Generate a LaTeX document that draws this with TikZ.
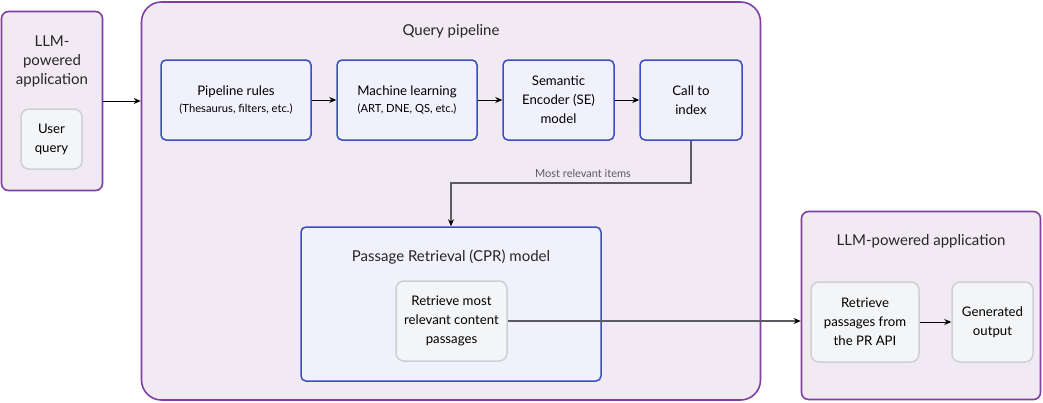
\documentclass[tikz,border=0pt]{standalone}
\usepackage{fontspec}
\setmainfont{Lato}
\usetikzlibrary{positioning,arrows.meta}

\definecolor{appborder}{HTML}{7F3FA6}
\definecolor{appfill}{HTML}{F2EAF3}
\definecolor{stepborder}{HTML}{3A4EC2}
\definecolor{stepfill}{HTML}{F1F1FC}
\definecolor{itemborder}{HTML}{CDD0D5}
\definecolor{itemfill}{HTML}{F4F5F7}
\definecolor{linkgray}{HTML}{5A5A60}

\tikzset{
  appbox/.style={draw=appborder, fill=appfill, line width=1.6pt, rounded corners=7pt,
    inner sep=0pt},
  stepbox/.style={draw=stepborder, fill=stepfill, line width=1.5pt, rounded corners=5pt,
    inner sep=0pt, align=center, font=\fontsize{13.2}{19}\selectfont},
  itembox/.style={draw=itemborder, fill=itemfill, line width=1.5pt, rounded corners=8pt,
    inner sep=0pt, align=center, font=\fontsize{13.2}{19}\selectfont},
  titletext/.style={align=center, font=\fontsize{15}{19}\selectfont, text=black!85},
  flow/.style={-{Stealth[length=7pt,width=6pt,color=black]}, line width=0.9pt},
}

\begin{document}
\begin{tikzpicture}[x=1pt, y=-1pt]
  \useasboundingbox (0,0) rectangle (1043,402);

  % Containers
  \node[appbox, minimum width=101pt, minimum height=179pt] (userapp) at (52,101) {};
  \node[appbox, minimum width=619pt, minimum height=398pt, rounded corners=20pt] (pipeline) at (451,201) {};
  \node[appbox, minimum width=239pt, minimum height=188pt] (outapp) at (921,305.5) {};

  % Titles
  \node[titletext] (userapptitle) at (52,61) {LLM-\\powered\\application};
  \node[titletext] (pipelinetitle) at (451,31) {Query pipeline};
  \node[titletext] (outapptitle) at (921,241) {LLM-powered application};

  % User query
  \node[itembox, minimum width=61pt, minimum height=60pt] (query) at (51.5,139) {User\\query};

  % Query pipeline steps
  \node[stepbox, minimum width=150pt, minimum height=80pt] (rules) at (236,100)
    {Pipeline rules\\[-2pt]{\fontsize{11.2}{12}\selectfont (Thesaurus, filters, etc.)}};
  \node[stepbox, minimum width=140pt, minimum height=80pt] (ml) at (407,100)
    {Machine learning\\[-2pt]{\fontsize{11.2}{12}\selectfont (ART, DNE, QS, etc.)}};
  \node[stepbox, minimum width=111pt, minimum height=80pt] (encoder) at (558.5,100)
    {Semantic\\Encoder (SE)\\model};
  \node[stepbox, minimum width=102pt, minimum height=80pt] (index) at (691,100)
    {Call to\\index};

  % Passage retrieval
  \node[stepbox, minimum width=300pt, minimum height=154pt] (cpr) at (451,304) {};
  \node[titletext] (cprtitle) at (451,257) {Passage Retrieval (CPR) model};
  \node[itembox, minimum width=111pt, minimum height=80pt] (passages) at (451.5,321)
    {Retrieve most\\relevant content\\passages};

  % Output application
  \node[itembox, minimum width=108pt, minimum height=80pt] (fetch) at (865,322)
    {Retrieve\\passages from\\the PR API};
  \node[itembox, minimum width=81pt, minimum height=80pt] (output) at (992.5,322)
    {Generated\\output};

  % Connectors
  \draw[flow] (userapp.east) -- (userapp.east -| pipeline.west);
  \foreach \a/\b in {rules/ml, ml/encoder, encoder/index}{
    \draw[flow] (\a.east) -- (\b.west);
  }
  \coordinate (bend) at (691,183);
  \draw[flow, draw=linkgray, line width=1.1pt] (index.south) -- (bend) -- (bend -| cpr.north)
    node[pos=0.45, above=1.5pt, text=linkgray, font=\fontsize{11}{12}\selectfont] (itemslabel) {Most relevant items}
    -- (cpr.north);
  \draw[flow, draw=linkgray, line width=1.1pt] (passages.east) -- (passages.east -| outapp.west);
  \draw[flow] (fetch.east) -- (output.west);
\end{tikzpicture}
\end{document}
